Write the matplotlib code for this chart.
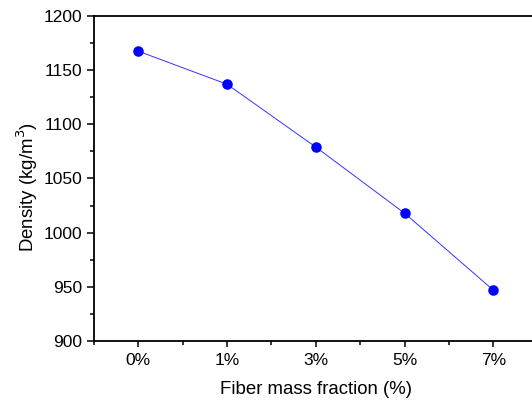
import matplotlib
matplotlib.use("Agg")
import matplotlib.pyplot as plt
from matplotlib.ticker import MultipleLocator, FixedLocator

# --- data ---
fractions = ["0%", "1%", "3%", "5%", "7%"]
density = [1167.5, 1137, 1079, 1018, 947]

plt.rcParams['font.family'] = ['Liberation Sans', 'DejaVu Sans']

fig = plt.figure(figsize=(5.32, 4.03), dpi=100)
ax = fig.add_axes([94 / 532, 1 - 341 / 403, (537.6 - 94) / 532, (341 - 16) / 403])

x = list(range(len(fractions)))
ax.plot(x, density, color='#3333ff', linewidth=0.7, zorder=2)
ax.plot(x, density, linestyle='none', marker='o', markersize=7.6,
        color='#0000ff', markeredgewidth=0, zorder=3)

ax.set_xlim(-0.5, len(fractions) - 0.5)
ax.set_ylim(900, 1200)
ax.set_xticks(x)
ax.set_xticklabels(fractions)
ax.xaxis.set_minor_locator(FixedLocator([i + 0.5 for i in range(-1, len(fractions))]))
ax.yaxis.set_major_locator(MultipleLocator(50))
ax.yaxis.set_minor_locator(MultipleLocator(25))

for s in ax.spines.values():
    s.set_linewidth(1.3)
ax.tick_params(which='major', direction='out', length=5, width=1.1,
               labelsize=12.5, pad=3.5)
ax.tick_params(axis='x', which='major', length=4.2, pad=4.5)
ax.tick_params(which='minor', direction='out', length=3, width=1.1)
ax.tick_params(top=False, right=False, which='both')

ax.set_xlabel('Fiber mass fraction (%)', fontsize=13.4, labelpad=9)
ax.set_ylabel('Density (kg/m$^3$)', fontsize=13.4)
# the reference puts the y label a bit below the axis centre
ax.yaxis.set_label_coords(-0.122, 0.474)

fig.savefig('out.png', dpi=100)
